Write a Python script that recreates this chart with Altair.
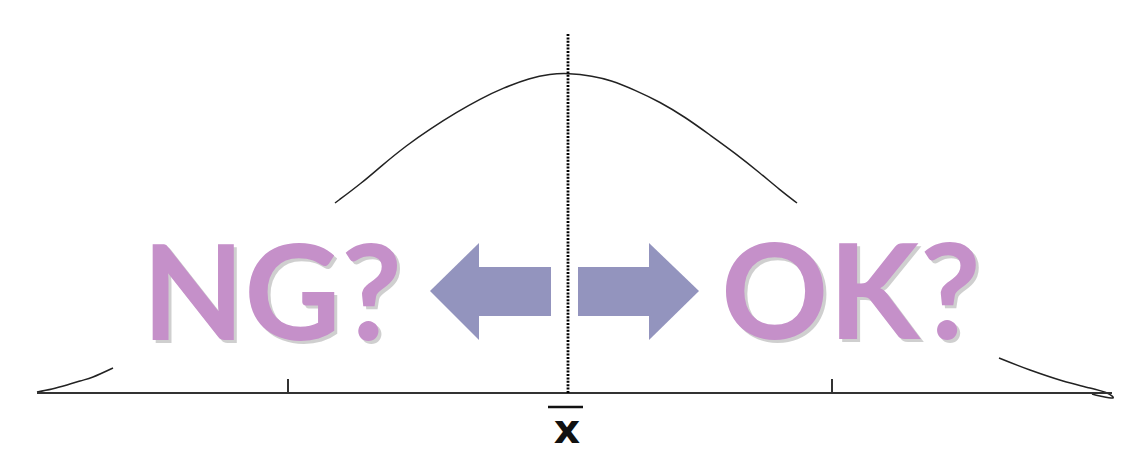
import altair as alt
import pandas as pd

# ---- data (x: offset from the mean, h: height above the axis) ----
top_x = [-233, -205, -188, -161, -138, -111, -88, -65, -38, -18, 0,
         25, 42, 67, 92, 117, 142, 167, 192, 212, 229]
top_h = [190, 211, 226, 248, 264, 281, 294, 305, 315, 319, 320,
         317, 313, 303, 291, 276, 258, 240, 220, 203, 190]

tail_seg = ["L"] * 6 + ["R"] * 8
tail_x = [-531, -516, -501, -488, -475, -455,
          431, 462, 495, 522, 539, 545, 532, 524]
tail_h = [1, 4, 8, 12, 16, 25,
          35, 23, 12, 5, 0, -5, -3, -1]

axis_from, axis_to = -531, 544
tick_x = [-280, 264]
tick_len = 14
mean_line_top = 359

# arrow heads (triangles) and shafts (rectangles)
head_id = ["left", "left", "right", "right"]
head_x = [-138, -89, 81, 131]
head_top = [102, 150, 150, 102]
head_bot = [102, 53, 53, 102]
shaft_x0 = [-90, 10]
shaft_x1 = [-17, 82]
shaft_top = [126, 126]
shaft_bot = [77, 77]

labels = ["NG?", "OK?"]
label_x = [-296, 283]
label_h = [53, 54]

mean_label = "x"

# ---- tables ----
top_df = pd.DataFrame({"x": top_x, "h": top_h})
tails = pd.DataFrame({"seg": tail_seg, "x": tail_x, "h": tail_h,
                      "o": list(range(len(tail_x)))})
heads = pd.DataFrame({"id": head_id, "x": head_x, "top": head_top, "bot": head_bot})
shafts = pd.DataFrame({"x0": shaft_x0, "x1": shaft_x1, "top": shaft_top, "bot": shaft_bot})
ticks = pd.DataFrame({"x": tick_x, "h0": [0] * len(tick_x), "h1": [tick_len] * len(tick_x)})
words = pd.DataFrame({"t": labels, "x": label_x, "h": label_h})
axis_df = pd.DataFrame({"x": [axis_from], "x2": [axis_to], "h": [0]})
mean_df = pd.DataFrame({"x": [0], "h0": [0], "h1": [mean_line_top]})
bar_df = pd.DataFrame({"x": [-20], "x2": [15], "h": [-14]})
xlab_df = pd.DataFrame({"x": [-1], "h": [-50], "t": [mean_label]})

W, H = 1116, 448
xs = alt.Scale(domain=[-560, 556], nice=False, zero=False)
ys = alt.Scale(domain=[-63, 385], nice=False, zero=False)
X = lambda f: alt.X(f, type="quantitative", scale=xs, axis=None)
Y = lambda f: alt.Y(f, type="quantitative", scale=ys, axis=None)

ARROW = "#9394be"
PINK = "#c590c9"

top_line = alt.Chart(top_df).mark_line(color="#222222", strokeWidth=1.5,
                                       interpolate="basis").encode(
    x=X("x"), y=Y("h"))

tail_line = alt.Chart(tails).mark_line(color="#222222", strokeWidth=1.5,
                                       interpolate="cardinal").encode(
    x=X("x"), y=Y("h"), detail="seg:N", order="o:Q")

axis_line = alt.Chart(axis_df).mark_rule(color="#333333", strokeWidth=1.8).encode(
    x=X("x"), x2="x2", y=Y("h"))

tick_rules = alt.Chart(ticks).mark_rule(color="#333333", strokeWidth=2).encode(
    x=X("x"), y=Y("h0"), y2="h1")

mean_rule = alt.Chart(mean_df).mark_rule(color="#000000", strokeWidth=2.8,
                                         strokeDash=[2, 1.4]).encode(
    x=X("x"), y=Y("h0"), y2="h1")

overbar = alt.Chart(bar_df).mark_rule(color="#111111", strokeWidth=2.5).encode(
    x=X("x"), x2="x2", y=Y("h"))

xlab = alt.Chart(xlab_df).mark_text(font="DejaVu Sans", fontWeight="bold", fontSize=41,
                                    color="#111111", baseline="alphabetic",
                                    align="center").encode(
    x=X("x"), y=Y("h"), text="t:N")

head_area = alt.Chart(heads).mark_area(color=ARROW, opacity=1).encode(
    x=X("x"), y=Y("top"), y2="bot", detail="id:N")

shaft_rect = alt.Chart(shafts).mark_rect(color=ARROW, opacity=1).encode(
    x=X("x0"), x2="x1", y=Y("top"), y2="bot")

shadow = alt.Chart(words).mark_text(font="Lato", fontWeight="bold", fontSize=133,
                                    color="#8a8a8a", opacity=0.4, dx=3, dy=3,
                                    baseline="alphabetic", align="center").encode(
    x=X("x"), y=Y("h"), text="t:N")

word_text = alt.Chart(words).mark_text(font="Lato", fontWeight="bold", fontSize=133,
                                       color=PINK, baseline="alphabetic",
                                       align="center").encode(
    x=X("x"), y=Y("h"), text="t:N")

chart = alt.layer(top_line, tail_line, axis_line, tick_rules, mean_rule, overbar, xlab,
                  head_area, shaft_rect, shadow, word_text).properties(
    width=W, height=H, padding=0, autosize=alt.AutoSizeParams(type="none"),
    background="white"
).configure_view(stroke=None)

chart.save("out.html", embed_options={"renderer": "svg", "actions": False})
